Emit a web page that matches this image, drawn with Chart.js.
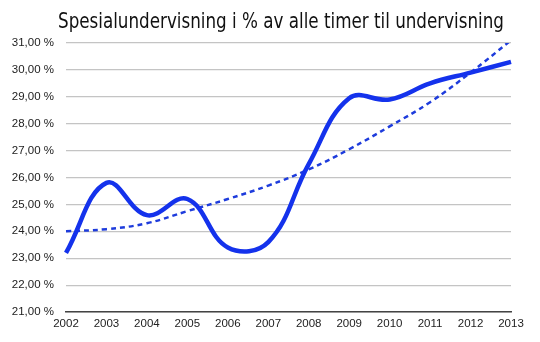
<!DOCTYPE html>
<html>
<head>
<meta charset="utf-8">
<script src="https://cdn.jsdelivr.net/npm/chart.js@4/dist/chart.umd.min.js"></script>
<style>
  html, body { margin: 0; padding: 0; background: #fff; }
  #wrap { width: 540px; height: 342px; }
</style>
</head>
<body>
<div id="wrap"><canvas id="chart" width="540" height="342"></canvas></div>
<script>
const years = ['2002', '2003', '2004', '2005', '2006', '2007', '2008', '2009', '2010', '2011', '2012', '2013'];
const andel = [23.2, 25.8, 24.6, 25.2, 23.4, 23.6, 26.5, 28.95, 28.9, 29.5, 29.9, 30.3];
const trend = [24.0, 24.08, 24.3, 24.75, 25.2, 25.7, 26.3, 27.05, 27.9, 28.8, 29.9, 31.1];

const tittel = 'Spesialundervisning i % av alle timer til undervisning';

// tittelen er smal og høy i originalen, så den tegnes selv og klemmes litt sammen
const tittelPlugin = {
    id: 'tittel',
    afterDraw(chart) {
        const ctx = chart.ctx;
        ctx.save();
        ctx.font = '21px "Liberation Sans Narrow", "DejaVu Sans Condensed", sans-serif';
        ctx.fillStyle = '#111';
        ctx.textBaseline = 'alphabetic';
        ctx.textAlign = 'left';
        const w = ctx.measureText(tittel).width;
        const sx = 446 / w;
        ctx.translate(281 - 223, 28.3);
        ctx.scale(sx, 1);
        ctx.fillText(tittel, 0, 0);
        ctx.restore();
    }
};

new Chart(document.getElementById('chart'), {
    type: 'line',
    data: {
        labels: years,
        datasets: [
            {
                data: andel,
                borderColor: '#1432ec',
                borderWidth: 4.5,
                pointRadius: 0,
                tension: 0.4,
                fill: false
            },
            {
                data: trend,
                borderColor: '#1e3cdc',
                borderWidth: 2.5,
                borderDash: [5, 4],
                pointRadius: 0,
                tension: 0.4,
                fill: false
            }
        ]
    },
    options: {
        responsive: false,
        animation: false,
        layout: { padding: { left: 0, right: 29, top: 43, bottom: 0 } },
        plugins: {
            legend: { display: false },
            tooltip: { enabled: false },
            title: { display: false }
        },
        scales: {
            x: {
                offset: false,
                grid: { display: false, drawTicks: false },
                border: { display: true, color: '#444', width: 1.5 },
                ticks: {
                    color: '#222',
                    font: { family: 'Liberation Sans, Arial, sans-serif', size: 11.5 },
                    padding: 5,
                    maxRotation: 0
                },
                afterFit(scale) { scale.height = 30; }
            },
            y: {
                min: 21,
                max: 31,
                grid: { color: '#c4c4c4', lineWidth: 1.2, drawTicks: false },
                border: { display: false },
                ticks: {
                    stepSize: 1,
                    color: '#222',
                    font: { family: 'Liberation Sans, Arial, sans-serif', size: 11.5 },
                    padding: 12,
                    callback: v => v.toFixed(2).replace('.', ',') + ' %'
                },
                afterFit(scale) { scale.width = 66; }
            }
        }
    },
    plugins: [tittelPlugin]
});
</script>
</body>
</html>
